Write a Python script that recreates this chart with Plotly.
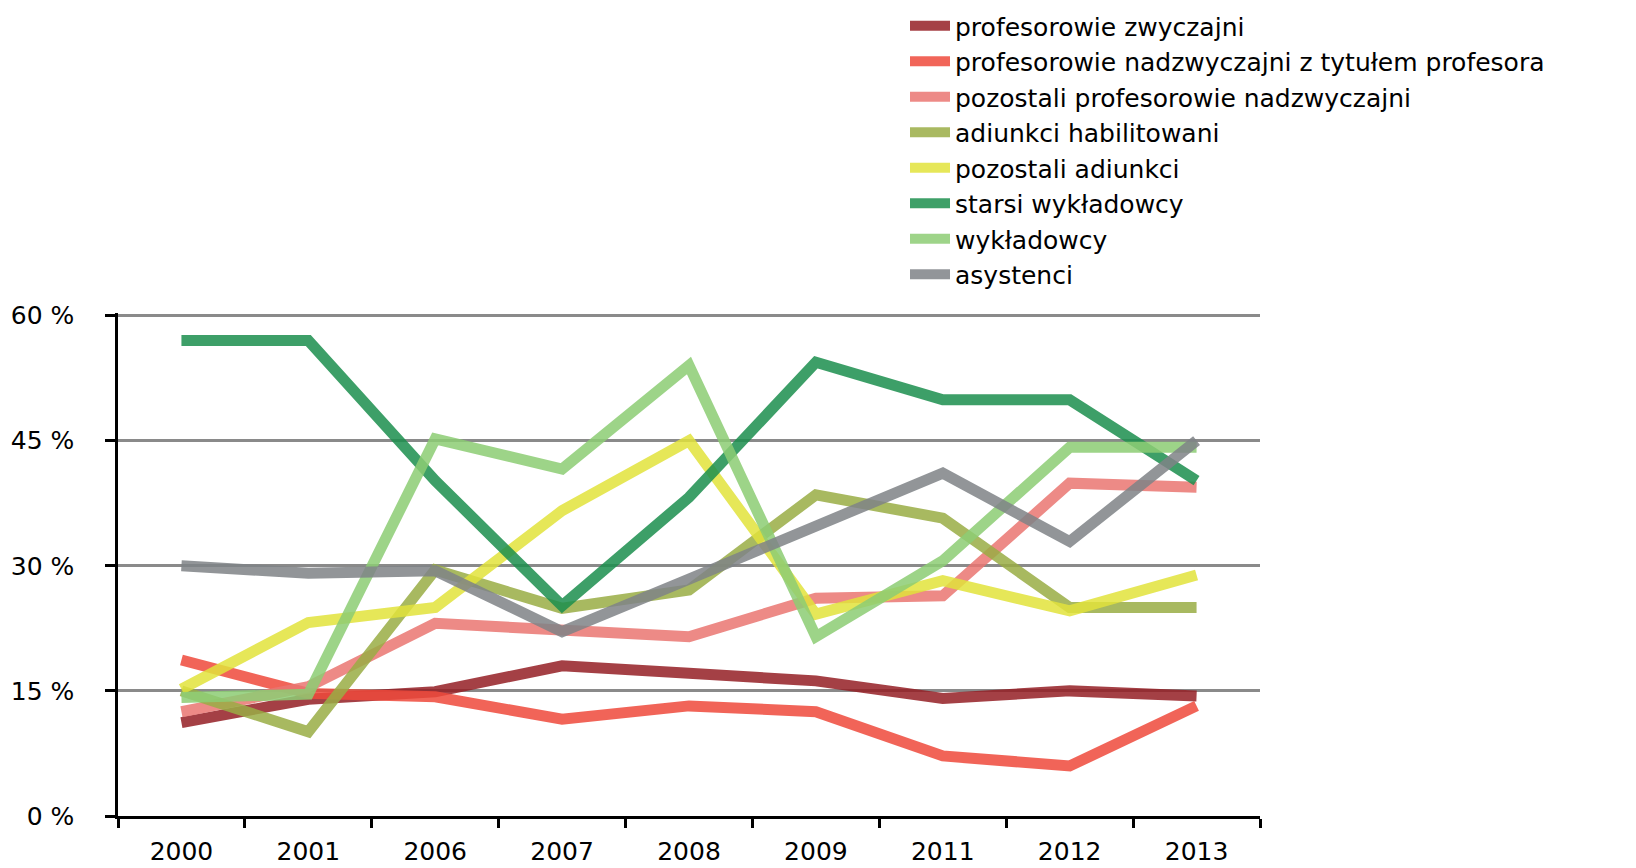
import plotly.graph_objects as go

years = ["2000", "2001", "2006", "2007", "2008", "2009", "2011", "2012", "2013"]

prof_zwyczajni = [11.2, 14.0, 14.9, 18.0, 17.1, 16.2, 14.1, 15.0, 14.4]
prof_nadzw_tytul = [18.7, 14.7, 14.3, 11.6, 13.2, 12.5, 7.2, 6.0, 13.2]
pozostali_prof_nadzw = [12.5, 15.5, 23.1, 22.2, 21.5, 26.1, 26.4, 39.9, 39.4]
adiunkci_hab = [15.0, 10.1, 29.5, 24.9, 27.1, 38.5, 35.7, 25.0, 25.0]
pozostali_adiunkci = [15.2, 23.2, 25.0, 36.6, 45.0, 24.2, 28.2, 24.6, 28.9]
starsi_wykladowcy = [57.0, 57.0, 40.2, 25.2, 38.2, 54.4, 49.9, 49.9, 40.2]
wykladowcy = [14.2, 14.6, 45.2, 41.6, 54.0, 21.5, 30.6, 44.2, 44.2]
asystenci = [30.0, 29.1, 29.4, 22.1, 28.4, 34.6, 41.1, 32.9, 45.0]

y_tick_values = [0, 15, 30, 45, 60]
y_tick_labels = ["0 %", "15 %", "30 %", "45 %", "60 %"]

series = [
    ("profesorowie zwyczajni", prof_zwyczajni, "#951f25"),
    ("profesorowie nadzwyczajni z tytułem profesora", prof_nadzw_tytul, "#ef4a3c"),
    ("pozostali profesorowie nadzwyczajni", pozostali_prof_nadzw, "#ea7672"),
    ("adiunkci habilitowani", adiunkci_hab, "#9aad45"),
    ("pozostali adiunkci", pozostali_adiunkci, "#e2e33c"),
    ("starsi wykładowcy", starsi_wykladowcy, "#1c8f4e"),
    ("wykładowcy", wykladowcy, "#8dcd74"),
    ("asystenci", asystenci, "#7f8387"),
]

fig = go.Figure()
for name, vals, col in series:
    fig.add_trace(go.Scatter(
        x=years, y=vals, name=name, mode="lines",
        line=dict(color=col, width=11), opacity=0.85,
    ))

FONT = "DejaVu Sans"
fig.update_layout(
    width=1636, height=868,
    margin=dict(l=118, r=376, t=313, b=52, autoexpand=False),
    plot_bgcolor="white", paper_bgcolor="white",
    font=dict(family=FONT, size=25, color="black"),
    showlegend=True,
    legend=dict(
        xref="container", yref="container",
        x=905 / 1636, y=1 - 3 / 868, xanchor="left", yanchor="top",
        font=dict(family=FONT, size=25, color="black"),
        tracegroupgap=0, itemwidth=40,
        bgcolor="rgba(0,0,0,0)",
    ),
    xaxis=dict(
        type="category", showgrid=False,
        showline=True, linecolor="black", linewidth=2.5,
        ticks="outside", tickson="boundaries", ticklen=9, tickwidth=2.5, tickcolor="black",
        range=[-0.5, 8.5], tickfont=dict(size=25), ticklabelstandoff=11,
    ),
    yaxis=dict(
        range=[0, 60.3], tickmode="array", tickvals=y_tick_values, ticktext=y_tick_labels,
        showgrid=True, gridcolor="#8a8a8a", gridwidth=2.5,
        showline=True, linecolor="black", linewidth=2.5,
        ticks="outside", ticklen=10, tickwidth=2.5, tickcolor="black",
        zeroline=False, tickfont=dict(size=25), ticklabelstandoff=26,
    ),
)

fig.write_html("out.html")
